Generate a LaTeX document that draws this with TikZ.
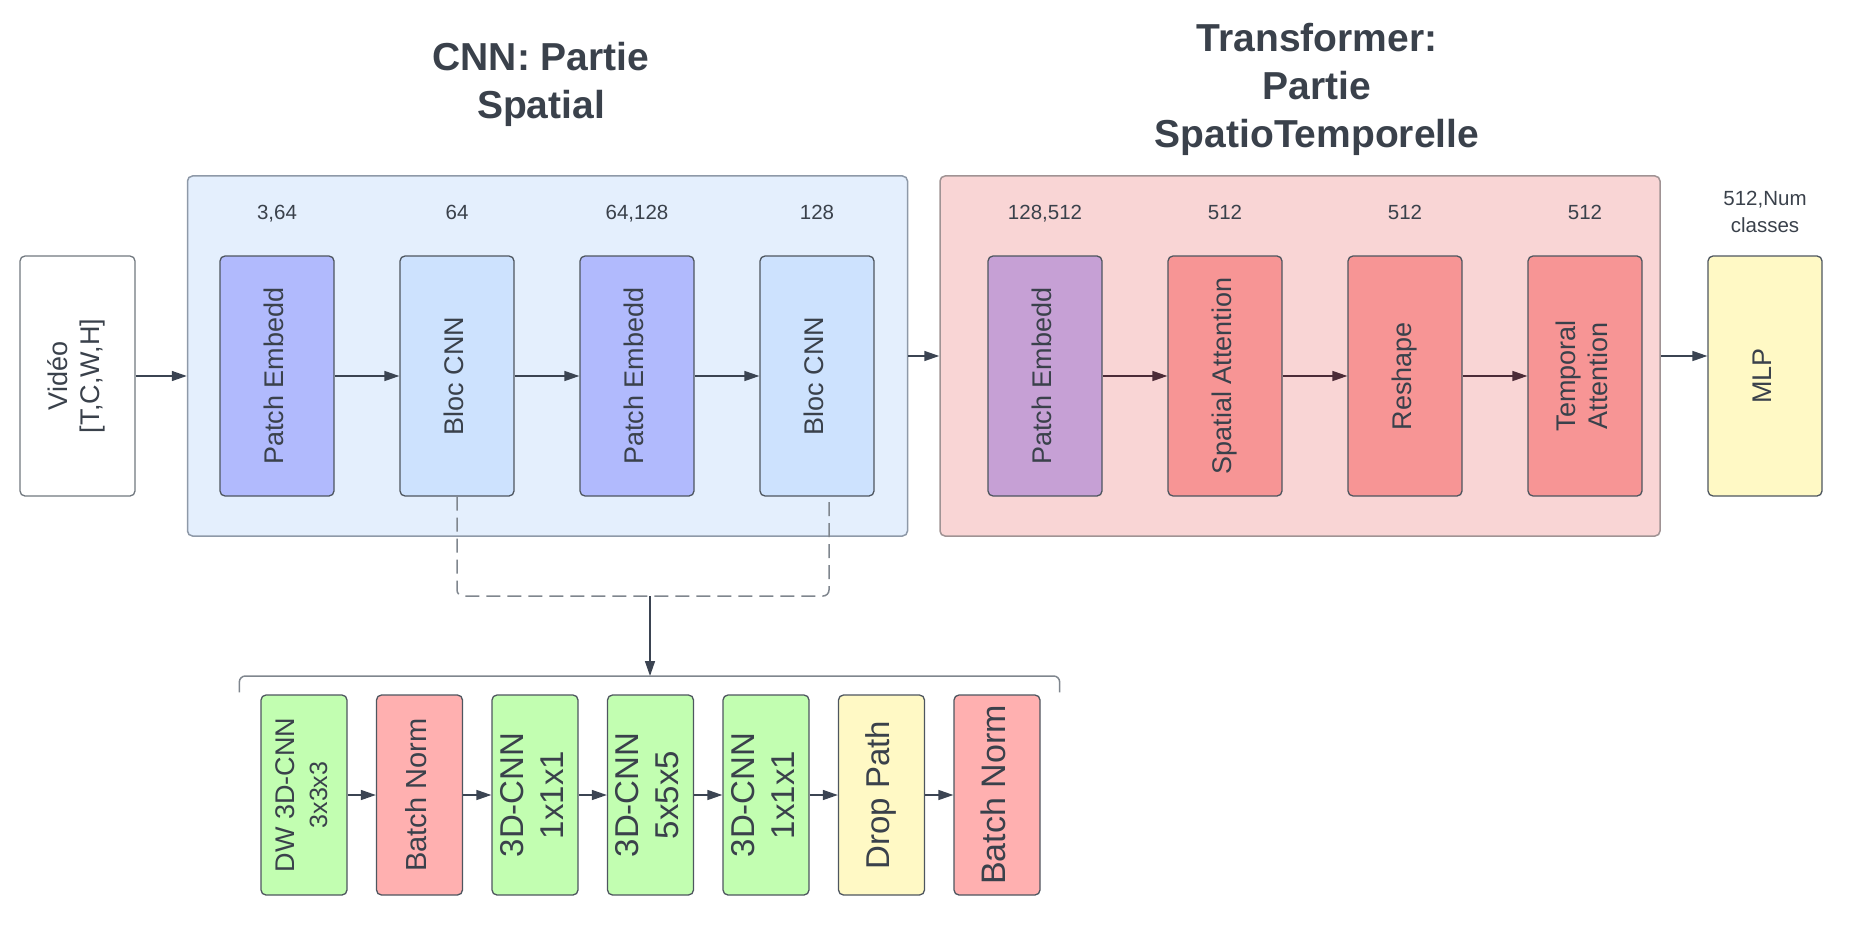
\documentclass[tikz,border=0pt]{standalone}
\usepackage{fontspec}
\setmainfont{Liberation Sans}
\usepackage{xcolor}
\usetikzlibrary{positioning,arrows.meta}

\definecolor{inkc}{HTML}{3A414B}
\definecolor{linec}{HTML}{3B4452}
\definecolor{linepink}{HTML}{4C2B37}
\definecolor{boxline}{HTML}{4E565F}
\definecolor{cnnbg}{HTML}{E4EFFD}
\definecolor{cnnedge}{HTML}{8E99A8}
\definecolor{trbg}{HTML}{F9D5D5}
\definecolor{tredge}{HTML}{A09394}
\definecolor{peblue}{HTML}{B1BAFD}
\definecolor{blocblue}{HTML}{CDE2FE}
\definecolor{pepurple}{HTML}{C6A0D5}
\definecolor{attred}{HTML}{F79595}
\definecolor{mlpyellow}{HTML}{FFF9C5}
\definecolor{cnngreen}{HTML}{C2FEB1}
\definecolor{bnred}{HTML}{FFB0B0}
\definecolor{dashc}{HTML}{7F868E}

\newcommand{\vlab}[1]{\rotatebox{90}{\begin{tabular}{@{}c@{}}#1\end{tabular}}}

\begin{document}
\begin{tikzpicture}[x=1pt, y=-1pt, node distance=180pt,
  >={Triangle[length=15pt,width=10pt]},
  blk/.style={draw=boxline, line width=1.3pt, rounded corners=5pt, minimum width=114pt,
    minimum height=240pt, inner sep=0pt, text=inkc, font=\fontsize{27}{32}\selectfont},
  sblk/.style={blk, node distance=115.5pt, minimum width=86pt, minimum height=200pt},
  dim/.style={text=inkc, font=\fontsize{20.5}{27}\selectfont, inner sep=0pt,
    text height=15pt, text depth=4pt},
  ttl/.style={text=inkc, font=\fontsize{39}{48}\selectfont\bfseries, align=center},
  grp/.style={rounded corners=5pt, line width=1.5pt, minimum width=720pt, minimum height=360pt},
  link/.style={->, color=linec, line width=1.5pt},
  dashlink/.style={draw=dashc, line width=1.5pt, dash pattern=on 14pt off 7pt, rounded corners=6pt},
  brace/.style={draw=dashc, line width=1.5pt, rounded corners=6pt}]

  \useasboundingbox (0,0) rectangle (1870,928);

  % group boxes
  \node[grp, draw=cnnedge, fill=cnnbg] (cnn) at (547.5,356) {};
  \node[grp, draw=tredge, fill=trbg] (tr) at (1300,356) {};

  \node[ttl] (cnnttl) at (541,84) {CNN: Partie\\Spatial};
  \node[ttl] (trttl) at (1317,89) {Transformer:\\Partie\\SpatioTemporelle};

  % main row
  \node[blk, fill=white, draw=boxline!80, minimum width=115pt] (vid) at (77.5,376) {\vlab{Vidéo\\{[T,C,W,H]}}};

  \node[blk, fill=peblue] (pe1) at (277,376) {\vlab{Patch Embedd}};
  \node[blk, fill=blocblue, right of=pe1] (bc1) {\vlab{Bloc CNN}};
  \node[blk, fill=peblue, right of=bc1] (pe2) {\vlab{Patch Embedd}};
  \node[blk, fill=blocblue, right of=pe2] (bc2) {\vlab{Bloc CNN}};

  \node[blk, fill=pepurple, right of=bc2, xshift=48pt] (pe3) {\vlab{Patch Embedd}};
  \node[blk, fill=attred, right of=pe3] (sa) {\vlab{Spatial Attention}};
  \node[blk, fill=attred, right of=sa] (rs) {\vlab{Reshape}};
  \node[blk, fill=attred, right of=rs] (ta) {\vlab{Temporal\\Attention}};
  \node[blk, fill=mlpyellow, right of=ta] (mlp) {\vlab{MLP}};

  % sizes
  \node[dim, above=32pt of pe1] (d1) {3,64};
  \node[dim, above=32pt of bc1] (d2) {64};
  \node[dim, above=32pt of pe2] (d3) {64,128};
  \node[dim, above=32pt of bc2] (d4) {128};
  \node[dim, above=32pt of pe3] (d5) {128,512};
  \node[dim, above=32pt of sa] (d6) {512};
  \node[dim, above=32pt of rs] (d7) {512};
  \node[dim, above=32pt of ta] (d8) {512};
  \node[dim, align=center, text height=, text depth=] (d9) at ([yshift=43pt]mlp.north) {512,Num\\classes};

  % detail of the CNN block
  \node[sblk, fill=cnngreen, font=\fontsize{27}{33}\selectfont] (sb1) at (304,795)
    {\vlab{DW 3D-CNN\\{\fontsize{25}{29}\selectfont 3x3x3}}};
  \node[sblk, fill=bnred, font=\fontsize{29}{35}\selectfont, right of=sb1] (sb2) {\vlab{Batch Norm}};
  \node[sblk, fill=cnngreen, font=\fontsize{33}{40}\selectfont, right of=sb2] (sb3) {\vlab{3D-CNN\\1x1x1}};
  \node[sblk, fill=cnngreen, font=\fontsize{33}{40}\selectfont, right of=sb3] (sb4) {\vlab{3D-CNN\\5x5x5}};
  \node[sblk, fill=cnngreen, font=\fontsize{33}{40}\selectfont, right of=sb4] (sb5) {\vlab{3D-CNN\\1x1x1}};
  \node[sblk, fill=mlpyellow, font=\fontsize{33}{40}\selectfont, right of=sb5] (sb6) {\vlab{Drop Path}};
  \node[sblk, fill=bnred, font=\fontsize{34}{40}\selectfont, right of=sb6] (sb7) {\vlab{Batch Norm}};

  % arrows
  \path[link]
    (vid.east) edge (vid.east -| cnn.west)
    (pe1) edge (bc1)
    (bc1) edge (pe2)
    (pe2) edge (bc2)
    (cnn) edge (tr)
    (tr.east) edge (tr.east -| mlp.west);

  \path[link, color=linepink]
    (pe3) edge (sa)
    (sa) edge (rs)
    (rs) edge (ta);

  \path[link]
    (sb1) edge (sb2)
    (sb2) edge (sb3)
    (sb3) edge (sb4)
    (sb4) edge (sb5)
    (sb5) edge (sb6)
    (sb6) edge (sb7);

  % zoom on the Bloc CNN
  \coordinate (join) at (650,596);
  \coordinate (brk) at (650,676);
  \draw[dashlink] (bc1.south) |- (join) -| ([xshift=12pt]bc2.south);
  \draw[link] (join) -- (brk);
  \draw[brace] ([xshift=-21pt,yshift=2pt]sb1.north west) |- (brk) -| ([xshift=19pt,yshift=2pt]sb7.north east);

\end{tikzpicture}
\end{document}
